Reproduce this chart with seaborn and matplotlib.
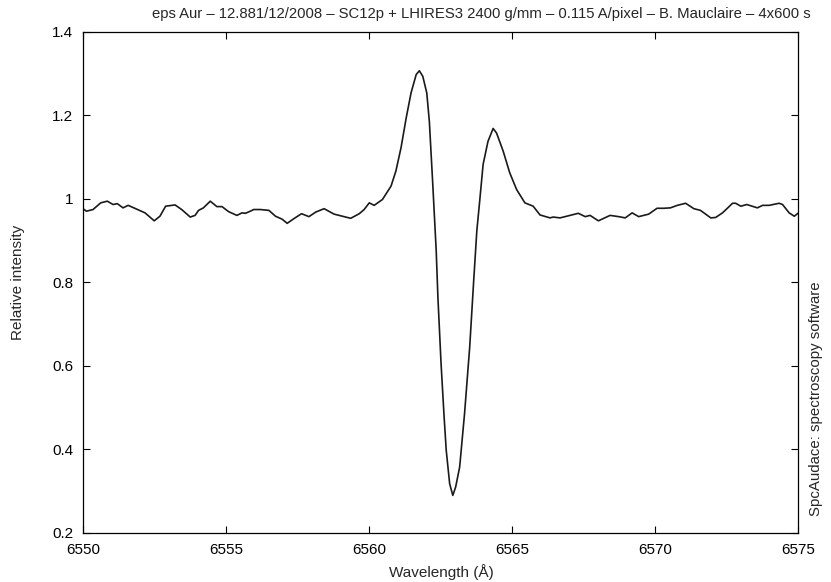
import matplotlib
matplotlib.use("Agg")
import matplotlib.pyplot as plt
import seaborn as sns
import pandas as pd

wavelength = [
    6550.00, 6550.12, 6550.35, 6550.62, 6550.85, 6551.05, 6551.20, 6551.40, 6551.58,
    6552.17, 6552.49, 6552.69, 6552.89, 6553.22, 6553.45, 6553.75, 6553.92, 6554.04,
    6554.21, 6554.45, 6554.68, 6554.86, 6555.09, 6555.38, 6555.56, 6555.68, 6555.85,
    6555.97, 6556.20, 6556.50, 6556.73, 6556.96, 6557.14, 6557.37, 6557.64, 6557.90,
    6558.14, 6558.43, 6558.78, 6559.07, 6559.36, 6559.66, 6559.83, 6560.01, 6560.18,
    6560.47, 6560.77, 6560.94, 6561.12, 6561.30, 6561.47, 6561.65, 6561.76, 6561.88,
    6562.02, 6562.11, 6562.23, 6562.35, 6562.41, 6562.52, 6562.62, 6562.70, 6562.82,
    6562.93, 6563.03, 6563.17, 6563.34, 6563.52, 6563.66, 6563.77, 6563.87, 6563.99,
    6564.16, 6564.34, 6564.46, 6564.69, 6564.92, 6565.16, 6565.45, 6565.74, 6565.98,
    6566.33, 6566.44, 6566.68, 6567.03, 6567.32, 6567.56, 6567.73, 6568.02, 6568.43,
    6568.73, 6568.96, 6569.20, 6569.43, 6569.78, 6570.07, 6570.31, 6570.54, 6570.78,
    6571.07, 6571.36, 6571.59, 6571.95, 6572.12, 6572.36, 6572.53, 6572.71, 6572.82,
    6573.00, 6573.21, 6573.58, 6573.76, 6573.99, 6574.34, 6574.46, 6574.69, 6574.87,
    6575.00,
]
intensity = [
    0.976, 0.970, 0.974, 0.990, 0.994, 0.986, 0.988, 0.978, 0.984,
    0.966, 0.947, 0.958, 0.982, 0.985, 0.974, 0.956, 0.960, 0.972,
    0.978, 0.994, 0.981, 0.981, 0.969, 0.960, 0.966, 0.965, 0.970,
    0.974, 0.974, 0.972, 0.958, 0.951, 0.941, 0.952, 0.964, 0.957,
    0.968, 0.976, 0.963, 0.958, 0.953, 0.964, 0.974, 0.990, 0.984,
    0.998, 1.030, 1.066, 1.122, 1.193, 1.253, 1.297, 1.306, 1.293,
    1.253, 1.185, 1.034, 0.875, 0.763, 0.605, 0.485, 0.398, 0.318,
    0.290, 0.310, 0.358, 0.485, 0.644, 0.803, 0.923, 0.994, 1.082,
    1.137, 1.168, 1.157, 1.114, 1.062, 1.022, 0.990, 0.982, 0.961,
    0.954, 0.956, 0.954, 0.960, 0.965, 0.957, 0.960, 0.947, 0.960,
    0.957, 0.954, 0.966, 0.957, 0.963, 0.977, 0.977, 0.978, 0.984,
    0.989, 0.976, 0.972, 0.954, 0.955, 0.966, 0.977, 0.989, 0.989,
    0.982, 0.986, 0.978, 0.984, 0.984, 0.989, 0.986, 0.966, 0.958,
    0.965,
]
x_ticks = [6550, 6555, 6560, 6565, 6570, 6575]
y_ticks = [0.2, 0.4, 0.6, 0.8, 1.0, 1.2, 1.4]
y_tick_labels = ["0.2", "0.4", "0.6", "0.8", "1", "1.2", "1.4"]

title = "eps Aur \u2013 12.881/12/2008 \u2013 SC12p + LHIRES3 2400 g/mm \u2013 0.115 A/pixel \u2013 B. Mauclaire \u2013 4x600 s"

sns.set_style("ticks")
plt.rcParams["font.family"] = ["Liberation Sans", "DejaVu Sans"]

df = pd.DataFrame({"wavelength": wavelength, "intensity": intensity})

W, H = 831, 582
L, R, T, B = 83, 798, 31.5, 533
fig = plt.figure(figsize=(W / 100, H / 100), dpi=100)
ax = fig.add_axes([L / W, 1 - B / H, (R - L) / W, (B - T) / H])

sns.lineplot(data=df, x="wavelength", y="intensity", ax=ax, color="#1a1a1a",
             linewidth=1.2, sort=False, estimator=None)

ax.set_xlim(6550, 6575)
ax.set_ylim(0.2, 1.4)
ax.set_xticks(x_ticks)
ax.set_xticklabels([str(t) for t in x_ticks])
ax.set_yticks(y_ticks)
ax.set_yticklabels(y_tick_labels)
ax.tick_params(direction="in", length=5, width=0.8, top=True, right=True,
               labelsize=11, colors="black", pad=7)
for s in ax.spines.values():
    s.set_linewidth(0.9)
    s.set_color("black")

ax.set_xlabel("")
ax.set_ylabel("")
fig.text(441 / W, 1 - 572 / H, "Wavelength (\u00c5)", ha="center", va="center", fontsize=11)
fig.text(18 / W, 1 - 282 / H, "Relative intensity", ha="center", va="center",
         rotation=90, fontsize=11)
fig.text(816 / W, 1 - 399 / H, "SpcAudace: spectroscopy software", ha="center",
         va="center", rotation=90, fontsize=10.8)
fig.text(481 / W, 1 - 14 / H, title, ha="center", va="center", fontsize=10.7)

fig.savefig("out.png", dpi=100)
